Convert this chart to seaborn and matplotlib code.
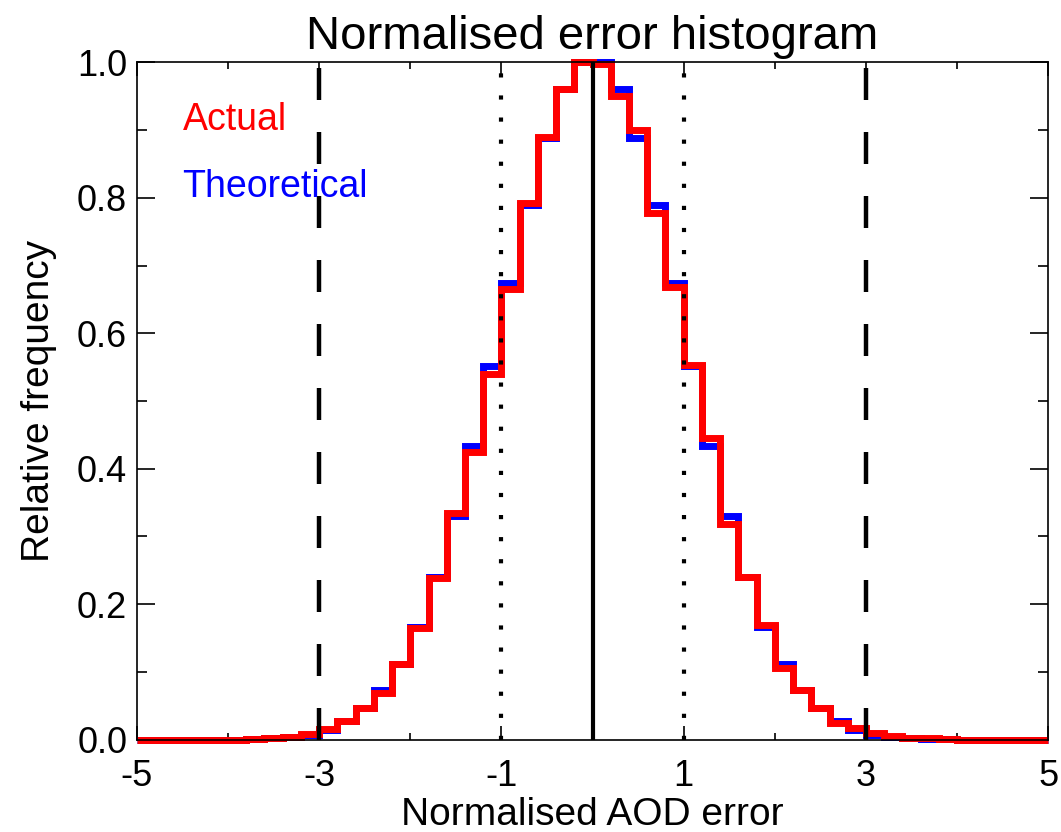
import matplotlib
matplotlib.use('Agg')
import matplotlib.pyplot as plt
import seaborn as sns
import numpy as np
import pandas as pd

# Bin edges: 50 bins of width 0.2 from -5 to 5
bin_edges = [round(v, 1) for v in np.linspace(-5, 5, 51)]
bin_centres = [round(0.5 * (a + b), 2) for a, b in zip(bin_edges[:-1], bin_edges[1:])]

# Relative frequency per bin (left to right)
actual_freq = [
    0, 0, 0, 0, 0, 0, 0.001, 0.002, 0.004, 0.008,
    0.015, 0.027, 0.046, 0.069, 0.111, 0.165, 0.238, 0.334, 0.425, 0.540,
    0.666, 0.793, 0.890, 0.960, 1.000, 0.997, 0.951, 0.900, 0.778, 0.668,
    0.553, 0.445, 0.318, 0.240, 0.170, 0.106, 0.074, 0.046, 0.025, 0.017,
    0.010, 0.006, 0.003, 0.002, 0.001, 0, 0, 0, 0, 0,
]
theoretical_freq = [
    0, 0, 0, 0, 0, 0, 0.001, 0.002, 0.004, 0.007,
    0.014, 0.027, 0.047, 0.074, 0.112, 0.167, 0.240, 0.330, 0.433, 0.551,
    0.674, 0.789, 0.889, 0.961, 1.000, 1.000, 0.961, 0.889, 0.789, 0.674,
    0.551, 0.433, 0.330, 0.240, 0.167, 0.112, 0.074, 0.047, 0.027, 0.014,
    0.007, 0.004, 0.002, 0.001, 0.001, 0, 0, 0, 0, 0,
]

# Reference lines: centre, +-1 sigma (dotted), +-3 sigma (dashed)
centre_line = [0]
sigma1_lines = [-1, 1]
sigma3_lines = [-3, 3]

x_major = [-5, -3, -1, 1, 3, 5]
x_minor = [-4, -2, 0, 2, 4]
y_major = [0.0, 0.2, 0.4, 0.6, 0.8, 1.0]
y_minor = [0.1, 0.3, 0.5, 0.7, 0.9]

df = pd.DataFrame({'error': bin_centres,
                   'actual': actual_freq,
                   'theoretical': theoretical_freq})

sns.set_style('ticks')
plt.rcParams['font.family'] = ['Liberation Sans', 'DejaVu Sans']
plt.rcParams['axes.unicode_minus'] = False
plt.rcParams['text.color'] = 'black'
plt.rcParams['axes.labelcolor'] = 'black'

fig = plt.figure(figsize=(10.61, 8.32), dpi=100)
ax = fig.add_axes([0.129, 0.111, 0.859, 0.814])

# --- Step histograms (theoretical underneath, actual on top) ---
line_kws = dict(element='step', fill=False, linewidth=5, clip_on=False,
                solid_joinstyle='miter', solid_capstyle='butt')
sns.histplot(data=df, x='error', weights='theoretical', bins=bin_edges,
             color='#0000ff', ax=ax, **line_kws)
sns.histplot(data=df, x='error', weights='actual', bins=bin_edges,
             color='#ff0000', ax=ax, **line_kws)

# --- Vertical reference lines ---
for xv in centre_line:
    ax.axvline(xv, color='black', linewidth=3)
for xv in sigma1_lines:
    ax.axvline(xv, color='black', linewidth=3, linestyle=(0, (1, 4.3)),
               dash_capstyle='butt')
for xv in sigma3_lines:
    ax.axvline(xv, color='black', linewidth=3.2, linestyle=(0, (7.2, 7.2)),
               dash_capstyle='butt')

ax.set_xlim(-5, 5)
ax.set_ylim(0, 1)

ax.set_xticks(x_major)
ax.set_xticks(x_minor, minor=True)
ax.set_yticks(y_major)
ax.set_yticks(y_minor, minor=True)
ax.set_xticklabels([str(v) for v in x_major])

ax.tick_params(which='both', direction='in', top=True, right=True,
               width=1.2, colors='black', labelsize=26)
ax.tick_params(axis='x', which='major', length=10, pad=14)
ax.tick_params(axis='x', which='minor', length=5)
ax.tick_params(axis='y', which='major', length=13, pad=7)
ax.tick_params(axis='y', which='minor', length=7)
for spine in ax.spines.values():
    spine.set_linewidth(1.2)
    spine.set_color('black')

ax.set_xlabel('Normalised AOD error', fontsize=28, labelpad=2)
ax.set_ylabel('Relative frequency', fontsize=28, labelpad=14)
ax.set_title('Normalised error histogram', fontsize=34, pad=10)

ax.text(0.05, 0.90, 'Actual', color='#ff0000', fontsize=27,
        transform=ax.transAxes, va='baseline', ha='left')
ax.text(0.05, 0.801, 'Theoretical', color='#0000ff', fontsize=27,
        transform=ax.transAxes, va='baseline', ha='left')

plt.savefig('out.png', dpi=100)
plt.close()
